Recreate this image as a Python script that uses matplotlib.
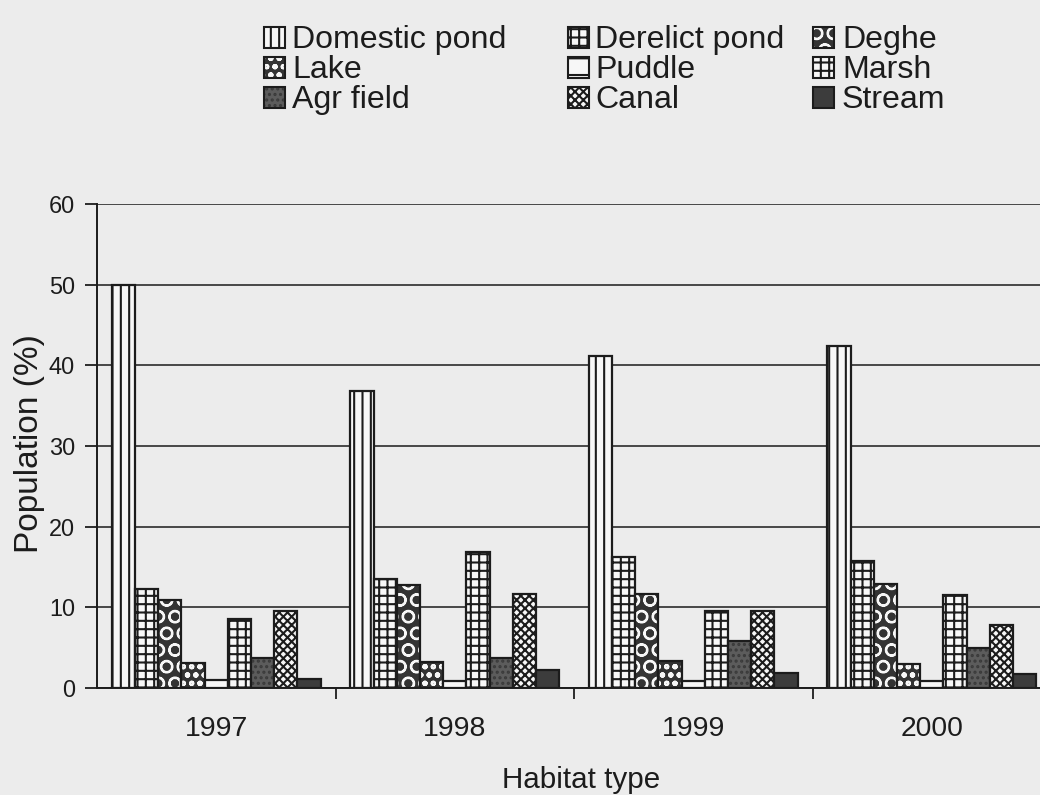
import matplotlib
matplotlib.use('Agg')
import matplotlib.pyplot as plt
import numpy as np
from matplotlib.patches import Rectangle
from matplotlib import font_manager as fm
from matplotlib.font_manager import FontProperties

# ---------------- data ----------------
years = ['1997', '1998', '1999', '2000']
habitats = ['Domestic pond', 'Derelict pond', 'Deghe', 'Lake', 'Puddle',
            'Marsh', 'Agr field', 'Canal', 'Stream']
domestic_pond = [50.0, 36.8, 41.2, 42.4]
derelict_pond = [12.3, 13.5, 16.3, 15.8]
deghe = [10.9, 12.8, 11.7, 12.9]
lake = [3.1, 3.2, 3.4, 3.0]
puddle = [1.0, 0.9, 0.9, 0.9]
marsh = [8.5, 16.8, 9.5, 11.5]
agr_field = [3.7, 3.7, 5.8, 4.9]
canal = [9.5, 11.7, 9.6, 7.8]
stream = [1.1, 2.2, 1.8, 1.7]
series = [domestic_pond, derelict_pond, deghe, lake, puddle,
          marsh, agr_field, canal, stream]
yticks = [0, 10, 20, 30, 40, 50, 60]
y_label = 'Population (%)'
x_label = 'Habitat type'

# ---------------- fonts ----------------
try:
    fm.findfont(FontProperties(family='Liberation Sans Narrow'), fallback_to_default=False)
    fam = 'Liberation Sans Narrow'
    k = 1.0
except Exception:
    fam = 'Liberation Sans'
    k = 0.89
plt.rcParams['font.family'] = [fam, 'DejaVu Sans']
plt.rcParams['hatch.linewidth'] = 1.5

ink = '#1c1c1c'
paper = '#ececec'
white = '#f7f7f7'

# facecolor, hatch, hatch colour
styles = [
    (white, '||', ink),        # Domestic pond
    (white, '++', ink),        # Derelict pond
    ('#333333', 'O', white),   # Deghe
    ('#333333', 'oo', white),  # Lake
    (white, '-', ink),         # Puddle
    (white, '++', ink),        # Marsh
    ('#5c5c5c', '...', '#3a3a3a'),  # Agr field
    (white, 'xxxx', ink),      # Canal
    ('#3c3c3c', '', ink),      # Stream
]

W, H = 1040, 795
fig = plt.figure(figsize=(W / 100, H / 100), dpi=100, facecolor=paper)
ax = fig.add_axes([97 / W, 1 - 688 / H, (1051 - 97) / W, (688 - 204) / H])
ax.set_facecolor('none')

n = len(series)
w = 0.875 / n
x = np.arange(len(years))


def draw(target, xs, hs, width, st, **kw):
    fc, hatch, hc = st
    if hc != ink:
        target.bar(xs, hs, width, color=fc, edgecolor=hc, hatch=hatch, linewidth=0, **kw)
        target.bar(xs, hs, width, facecolor='none', edgecolor=ink, linewidth=1.6, **kw)
    else:
        target.bar(xs, hs, width, color=fc, edgecolor=ink, hatch=hatch, linewidth=1.6, **kw)


for i, (vals, st) in enumerate(zip(series, styles)):
    draw(ax, x + (i - (n - 1) / 2) * w, vals, w, st, zorder=3)

ax.set_xlim(-0.5, 3.5)
ax.set_ylim(0, 60)
ax.set_yticks(yticks)
ax.yaxis.grid(True, color='#3a3a3a', linewidth=1.3)
ax.set_axisbelow(True)
for s in ['top', 'right']:
    ax.spines[s].set_visible(False)
for s in ['left', 'bottom']:
    ax.spines[s].set_color(ink)
    ax.spines[s].set_linewidth(1.4)
    ax.spines[s].set_zorder(4)

ax.set_xticks(x)
ax.set_xticklabels(years)
ax.set_xticks([0.5, 1.5, 2.5], minor=True)
ax.tick_params(axis='x', which='major', length=0, pad=20, labelsize=23 * k, labelcolor=ink)
ax.tick_params(axis='x', which='minor', length=8, width=1.3, direction='out', color=ink)
ax.tick_params(axis='y', length=9, width=1.3, direction='out', color=ink, pad=7,
               labelsize=19 * k, labelcolor=ink)

fig.text(30 / W, 1 - 444 / H, y_label, rotation=90, ha='center', va='center',
         fontsize=27 * k, color=ink)
fig.text(581 / W, 1 - 788 / H, x_label, ha='center', va='baseline',
         fontsize=24 * k, color=ink)

# ---------------- legend (row-major, 3 columns) ----------------
col_sw = [264, 568, 813]
col_tx = [292, 595, 842]
row_base = [48, 78, 108]
sw = 21
for i, (name, st) in enumerate(zip(habitats, styles)):
    r, c = divmod(i, 3)
    x0 = col_sw[c] / W
    y0 = 1 - row_base[r] / H
    fc, hatch, hc = st
    if hc != ink:
        fig.add_artist(Rectangle((x0, y0), sw / W, sw / H, transform=fig.transFigure,
                                 facecolor=fc, edgecolor=hc, hatch=hatch, linewidth=0))
        fig.add_artist(Rectangle((x0, y0), sw / W, sw / H, transform=fig.transFigure,
                                 facecolor='none', edgecolor=ink, linewidth=1.5))
    else:
        fig.add_artist(Rectangle((x0, y0), sw / W, sw / H, transform=fig.transFigure,
                                 facecolor=fc, edgecolor=ink, hatch=hatch, linewidth=1.5))
    fig.text(col_tx[c] / W, y0, name, ha='left', va='baseline', fontsize=26 * k, color=ink)

fig.savefig('out.png', dpi=100, facecolor=paper)
